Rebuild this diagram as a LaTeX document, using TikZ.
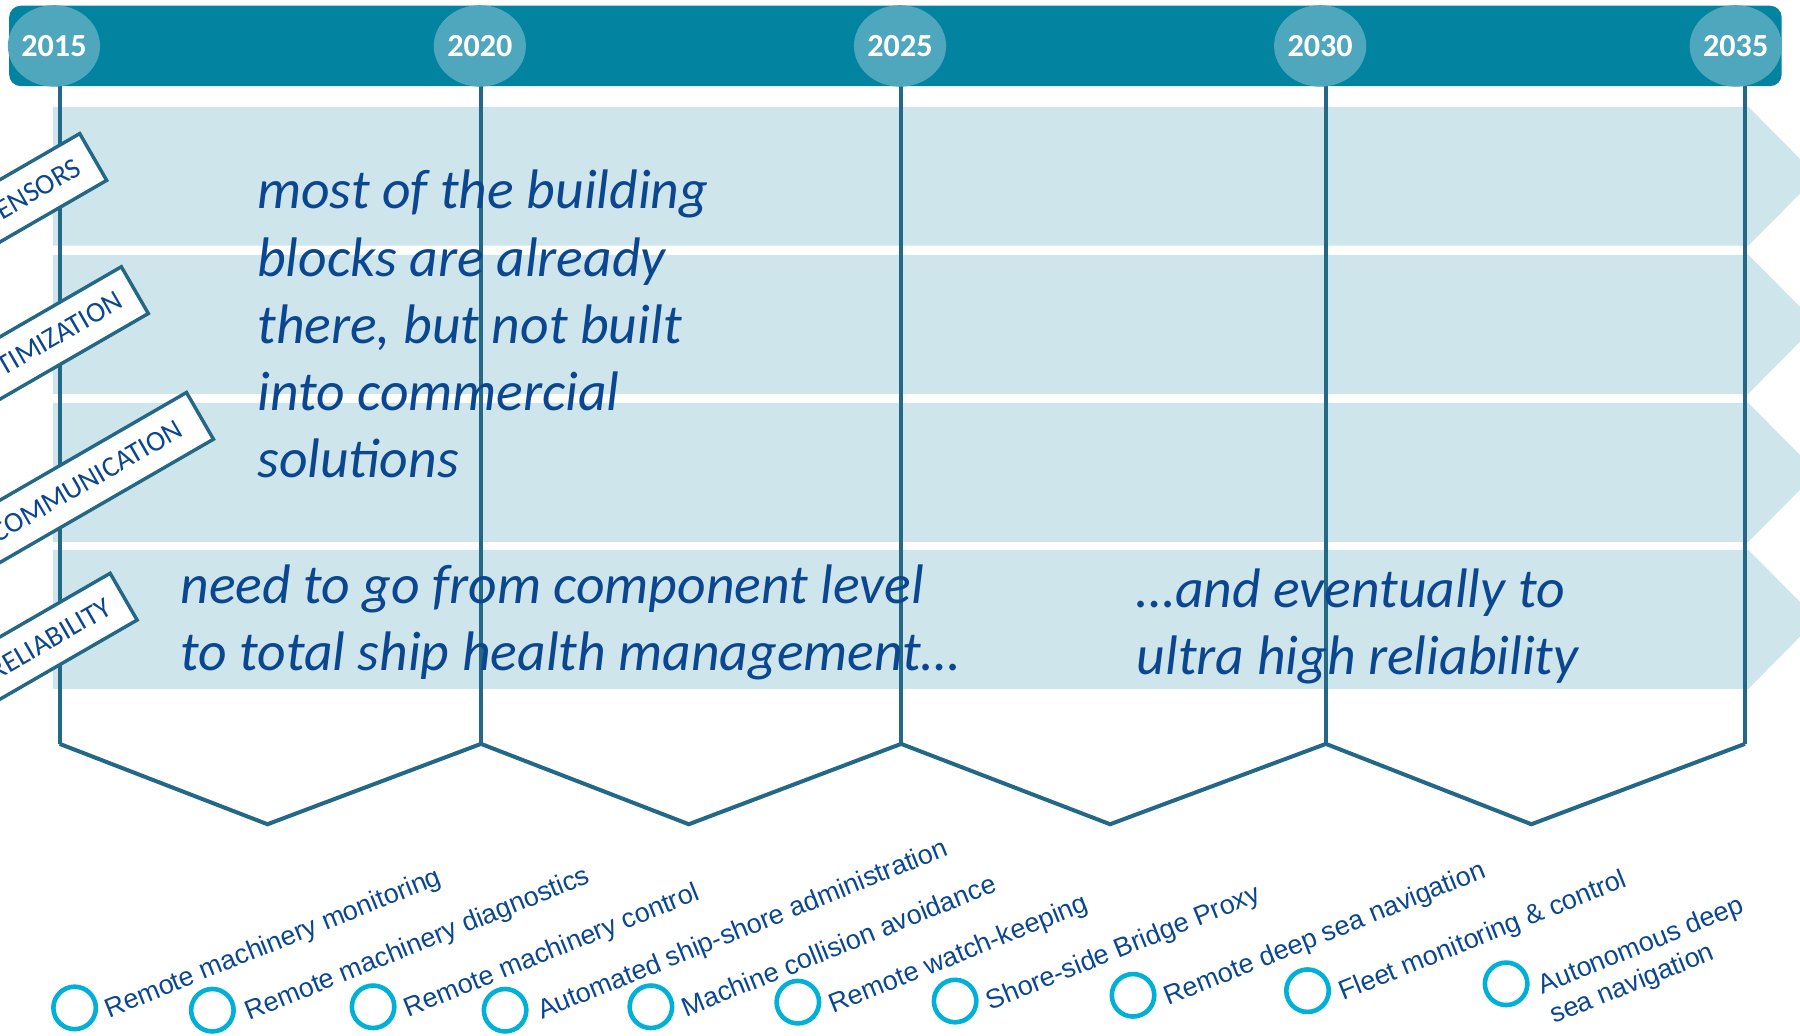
\documentclass[tikz,border=0pt]{standalone}
\usepackage{fontspec}
\usetikzlibrary{shapes.geometric}
\newfontfamily\calfont{Carlito}
\newfontfamily\itemfont{Liberation Sans}
\definecolor{barteal}{HTML}{0283A0}
\definecolor{yearcirc}{HTML}{4FA7BD}
\definecolor{bandblue}{HTML}{CDE5EB}
\definecolor{rulecol}{HTML}{246887}
\definecolor{ink}{HTML}{0B4690}
\definecolor{ringcol}{HTML}{00B0D6}
\begin{document}
\begin{tikzpicture}[x=1pt,y=-1pt,
  bandfill/.style={fill=bandblue},
  rulepen/.style={draw=rulecol,line width=3.5pt},
  bubble/.style={ellipse,fill=yearcirc,minimum width=80pt,minimum height=71pt,inner sep=0pt,
    text=white,font=\calfont\bfseries\fontsize{28}{28}\selectfont},
  tag/.style={draw=rulecol,line width=3pt,fill=white,rotate=30,anchor=east,
    minimum height=47pt,inner xsep=15pt,inner ysep=0pt,text=ink,
    font=\calfont\fontsize{25}{25}\selectfont},
  bigtext/.style={anchor=base west,align=left,inner sep=0pt,text=ink,
    font=\calfont\itshape\fontsize{48.5}{58.5}\selectfont},
  ringmark/.style={circle,draw=ringcol,line width=4pt,minimum size=37pt,inner sep=0pt},
  item/.style={anchor=base west,rotate=22,inner sep=0pt,text=ink,align=left,
    font=\itemfont\fontsize{23.5}{28}\selectfont}]

\clip (0,0) rectangle (1568,902);

% horizontal theme bands with arrow heads
\foreach \t in {93,222,351,479}
  \fill[bandfill] (46,\t) -- (1523,\t) -- (1583,\t+60.5) -- (1523,\t+121) -- (46,\t+121) -- cycle;

% year rules and the zigzag below them
\foreach \n/\x in {a/52,b/419,c/785,d/1155,e/1520}{
  \coordinate (top\n) at (\x,75);
  \coordinate (bot\n) at (\x,648);
}
\coordinate (v1) at (233,718);
\coordinate (v2) at (600,718);
\coordinate (v3) at (967,718);
\coordinate (v4) at (1334,718);
\foreach \n in {a,b,c,d,e} \draw[rulepen] (top\n) -- (bot\n);
\draw[rulepen,line join=miter] (bota) -- (v1) -- (botb) -- (v2) -- (botc) -- (v3) -- (botd) -- (v4) -- (bote);

% timeline bar
\fill[barteal,rounded corners=10pt] (8,5) rectangle (1552,75);
\node[bubble] (y2015) at (47,40) {2015};
\node[bubble] (y2020) at (418,40) {2020};
\node[bubble] (y2025) at (784,40) {2025};
\node[bubble] (y2030) at (1150,40) {2030};
\node[bubble] (y2035) at (1512,40) {2035};

% theme tags
\node[tag] (sensors) at (82.5,136) {\hspace*{150pt}SENSORS};
\node[tag] (optim) at (118.75,252) {\hspace*{150pt}OPTIMIZATION};
\node[tag,inner xsep=20pt] (comm) at (175.5,361.5) {\hspace*{150pt}COMMUNICATION};
\node[tag] (relia) at (109,519) {\hspace*{150pt}RELIABILITY};

% statements (anchored on the baseline of their last line)
\node[bigtext] (blocks) at (224,416) {most of the building\\blocks are already\\there, but not built\\into commercial\\solutions};
\node[bigtext] (health) at (157,584.5) {need to go from component level\\to total ship health management…};
\node[bigtext] (ultra) at (990,587.5) {…and eventually to\\ultra high reliability};

% milestones
\node[ringmark] (r1) at (65,878) {};
\node[ringmark] (r2) at (185,880) {};
\node[ringmark] (r3) at (325,877) {};
\node[ringmark] (r4) at (440,880) {};
\node[ringmark] (r5) at (567,877) {};
\node[ringmark] (r6) at (695,873) {};
\node[ringmark] (r7) at (832,872) {};
\node[ringmark] (r8) at (987,867) {};
\node[ringmark] (r9) at (1139,863) {};
\node[ringmark] (r10) at (1312,857) {};
\node[item] (m1) at (95,887) {Remote machinery monitoring};
\node[item] (m2) at (217,889) {Remote machinery diagnostics};
\node[item] (m3) at (356,886) {Remote machinery control};
\node[item] (m4) at (472,888) {Automated ship-shore administration};
\node[item] (m5) at (598,886) {Machine collision avoidance};
\node[item] (m6) at (726,883) {Remote watch-keeping};
\node[item] (m7) at (863,880) {Shore-side Bridge Proxy};
\node[item] (m8) at (1018,876) {Remote deep sea navigation};
\node[item] (m9) at (1170,872) {Fleet monitoring \& control};
\node[item] (m10) at (1354,892) {Autonomous deep\\sea navigation};
\end{tikzpicture}
\end{document}
